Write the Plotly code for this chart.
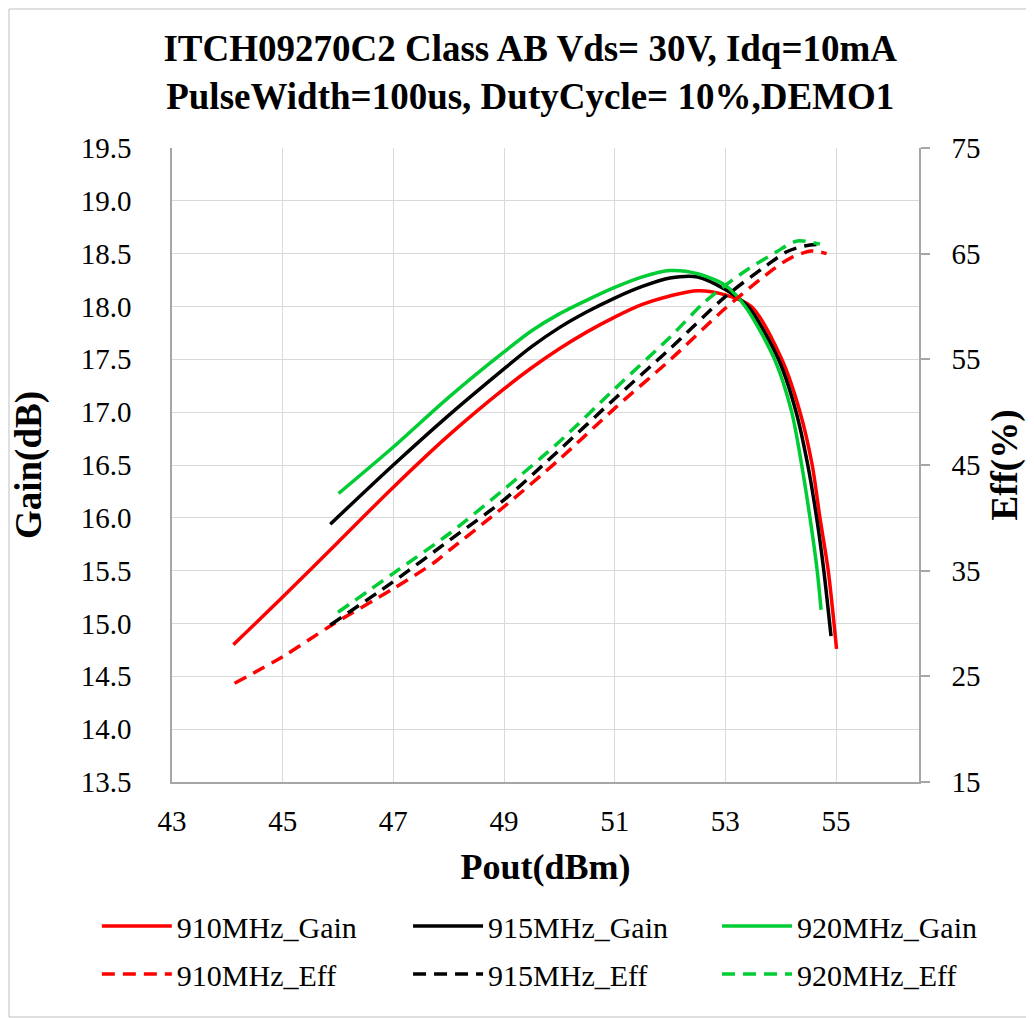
import plotly.graph_objects as go

# ---- data ----
gain910_x = [44.11, 45.0, 46.0, 47.0, 48.0, 49.0, 49.5, 50.0, 50.5, 51.0, 51.5, 52.0, 52.5, 53.0, 53.47, 54.02, 54.35, 54.57, 54.71, 54.86, 55.01]
gain910_y = [14.80, 15.25, 15.77, 16.29, 16.78, 17.22, 17.42, 17.60, 17.76, 17.90, 18.02, 18.10, 18.15, 18.11, 18.0, 17.5, 17.0, 16.5, 16.0, 15.5, 14.76]

gain915_x = [45.86, 47.0, 48.0, 49.0, 49.5, 50.0, 50.5, 51.0, 51.5, 52.0, 52.5, 53.0, 53.41, 53.96, 54.28, 54.49, 54.65, 54.78, 54.91]
gain915_y = [15.94, 16.50, 16.97, 17.41, 17.62, 17.80, 17.95, 18.08, 18.19, 18.27, 18.28, 18.16, 18.0, 17.5, 17.0, 16.5, 16.0, 15.5, 14.88]

gain920_x = [46.01, 47.0, 48.0, 49.0, 49.5, 50.0, 50.5, 51.0, 51.5, 52.0, 52.5, 53.0, 53.36, 53.89, 54.2, 54.38, 54.53, 54.66, 54.73]
gain920_y = [16.23, 16.67, 17.14, 17.57, 17.77, 17.93, 18.06, 18.18, 18.28, 18.34, 18.31, 18.20, 18.0, 17.5, 17.0, 16.5, 16.0, 15.5, 15.13]

eff910_x = [44.13, 45.0, 45.89, 47.0, 47.72, 48.02, 49.0, 50.0, 51.0, 52.0, 53.0, 53.81, 54.17, 54.55, 54.83]
eff910_y = [24.34, 26.86, 29.86, 33.3, 35.7, 36.96, 41.05, 45.53, 50.36, 54.94, 59.83, 63.3, 64.56, 65.25, 65.0]

eff915_x = [45.86, 47.0, 48.02, 49.0, 50.0, 51.0, 52.0, 53.0, 53.75, 54.11, 54.45, 54.74]
eff915_y = [29.86, 33.96, 37.9, 41.7, 46.42, 51.27, 56.0, 60.93, 63.9, 65.18, 65.75, 65.9]

eff920_x = [46.0, 47.0, 48.02, 49.0, 50.0, 51.0, 52.0, 52.6, 53.0, 53.4, 53.9, 54.3, 54.71]
eff920_y = [31.06, 34.75, 38.54, 42.7, 47.2, 52.2, 57.1, 60.3, 62.0, 63.5, 65.1, 66.2, 65.9]

gain_names = ["910MHz_Gain", "915MHz_Gain", "920MHz_Gain"]
eff_names = ["910MHz_Eff", "915MHz_Eff", "920MHz_Eff"]
colors = ["#FF0000", "#000000", "#00CC33"]

FONT = "Liberation Serif, Times New Roman, serif"

gains = [(gain910_x, gain910_y), (gain915_x, gain915_y), (gain920_x, gain920_y)]
effs = [(eff910_x, eff910_y), (eff915_x, eff915_y), (eff920_x, eff920_y)]
legend_ids = ["legend", "legend2", "legend3"]

fig = go.Figure()
for i in range(3):
    gx, gy = gains[i]
    ex, ey = effs[i]
    fig.add_trace(go.Scatter(x=gx, y=gy, mode="lines", name=gain_names[i],
                             line=dict(color=colors[i], width=3.5, shape="spline", smoothing=0.8),
                             yaxis="y", legend=legend_ids[i], legendgroup="g%d" % i))
    fig.add_trace(go.Scatter(x=ex, y=ey, mode="lines", name=eff_names[i],
                             line=dict(color=colors[i], width=3.5, dash="13px,8px", shape="spline", smoothing=0.8),
                             yaxis="y2", legend=legend_ids[i], legendgroup="e%d" % i))

grid = "#D9D9D9"
axis_line = "#A6A6A6"
TICK = dict(family=FONT, size=29, color="black")
ATITLE = dict(family=FONT, size=37, color="black", weight="bold")

def leg(xpos):
    return dict(orientation="v", x=xpos, xanchor="left", y=-0.186, yanchor="top",
                font=dict(family=FONT, size=30, color="black"), itemwidth=70,
                bgcolor="rgba(0,0,0,0)", tracegroupgap=6, traceorder="grouped")

fig.update_layout(
    width=1026, height=1010,
    paper_bgcolor="white", plot_bgcolor="white",
    margin=dict(l=164, r=115, t=140, b=236),
    font=dict(family=FONT, size=29, color="black"),
    title=dict(text="ITCH09270C2 Class AB Vds= 30V, Idq=10mA<br>PulseWidth=100us, DutyCycle= 10%,DEMO1",
               font=dict(family=FONT, size=37, color="black", weight="bold"),
               x=0.509, xanchor="center", xref="container",
               y=0.948, yanchor="middle", yref="container"),
    xaxis=dict(range=[43, 56.5], tick0=43, dtick=2, showgrid=True, gridcolor=grid, gridwidth=1.3,
               showline=True, linecolor=axis_line, linewidth=1.5, zeroline=False, ticks="",
               tickfont=TICK, ticklabelstandoff=12,
               title=dict(text="Pout(dBm)", font=dict(family=FONT, size=36, color="black", weight="bold"), standoff=18)),
    yaxis=dict(range=[13.5, 19.5], tick0=13.5, dtick=0.5, tickformat=".1f", showgrid=True, gridcolor=grid, gridwidth=1.3,
               showline=True, linecolor=axis_line, linewidth=1.5, zeroline=False, ticks="",
               tickfont=TICK, ticklabelstandoff=33,
               title=dict(text="Gain(dB)", font=ATITLE, standoff=36)),
    yaxis2=dict(range=[15, 75], tick0=15, dtick=10, overlaying="y", side="right", showgrid=False,
                showline=True, linecolor=axis_line, linewidth=1.5, zeroline=False,
                ticks="outside", ticklen=9, tickcolor=axis_line, tickwidth=1.5,
                tickfont=TICK, ticklabelstandoff=16,
                title=dict(text="Eff(%)", font=ATITLE, standoff=12)),
    legend=leg(-0.1006),
    legend2=leg(0.316),
    legend3=leg(0.7296),
    showlegend=True,
)

fig.add_shape(type="rect", xref="paper", yref="paper",
              x0=-163 / 747, x1=(1025 - 164) / 747, y0=-(1009 - 774) / 634, y1=1 + 139 / 634,
              line=dict(color="#BFBFBF", width=1), fillcolor="rgba(0,0,0,0)", layer="below")

fig.write_html("out.html")
